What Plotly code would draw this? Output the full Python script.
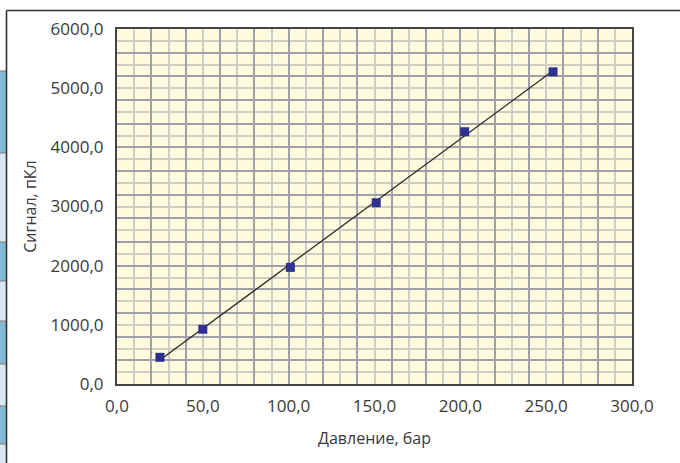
import numpy as np
import plotly.graph_objects as go

# ---- data ----
pressure = [25, 50, 101, 151, 202.5, 254]          # Давление, бар
signal = [451, 925, 1971, 3063, 4264, 5276]         # Сигнал, пКл

x_tick_vals = [0, 50, 100, 150, 200, 250, 300]
x_tick_text = ["0,0", "50,0", "100,0", "150,0", "200,0", "250,0", "300,0"]
y_tick_vals = [0, 1000, 2000, 3000, 4000, 5000, 6000]
y_tick_text = ["0,0", "1000,0", "2000,0", "3000,0", "4000,0", "5000,0", "6000,0"]

x_title = "Давление, бар"
y_title = "Сигнал, пКл"

# linear trend
coef = np.polyfit(pressure, signal, 1)
trend_x = [min(pressure), max(pressure)]
trend_y = list(np.polyval(coef, trend_x))

# ---- layout constants ----
W, H = 680, 463
ML, MR, MT, MB = 117, 48, 29, 79
PW, PH = W - ML - MR, H - MT - MB

def px(xp):
    return (xp - ML) / PW

def py(yp):
    return (H - MB - yp) / PH

FONT = "Open Sans"
TXT = "#3a3a3a"
GRID_DARK = "#a0a0a8"
GRID_LIGHT = "#cfcdc4"

fig = go.Figure()

fig.add_trace(go.Scatter(
    x=trend_x, y=trend_y, mode="lines",
    line=dict(color="#2a2a2a", width=1.3), showlegend=False, hoverinfo="skip"))
fig.add_trace(go.Scatter(
    x=pressure, y=signal, mode="markers",
    marker=dict(symbol="square", size=9, color="#2e3192"),
    showlegend=False))
# dummy trace for overlay grid axes
fig.add_trace(go.Scatter(x=[], y=[], xaxis="x2", yaxis="y2", showlegend=False))

x_minor = [v for v in range(10, 300, 10) if v % 20 != 0]
x_major = [v for v in range(20, 300, 20)]
y_minor = [v for v in range(200, 6000, 200) if v % 400 != 0]
y_major = [v for v in range(400, 6000, 400)]

fig.update_layout(
    width=W, height=H,
    margin=dict(l=ML, r=MR, t=MT, b=MB),
    paper_bgcolor="white",
    plot_bgcolor="#fffbdf",
    font=dict(family=FONT, color=TXT, size=16),
    xaxis=dict(
        range=[0, 300], tickvals=x_tick_vals, ticktext=x_tick_text,
        showgrid=False, zeroline=False,
        showline=True, linecolor="#444444", linewidth=2, mirror=True,
        ticks="", ticklabelstandoff=6,
        tickfont=dict(size=17, color=TXT),
        minor=dict(tickvals=x_minor, showgrid=True, gridcolor=GRID_LIGHT, gridwidth=1.5, ticks=""),
        title=dict(text=x_title, font=dict(size=16, color=TXT), standoff=16),
    ),
    yaxis=dict(
        range=[0, 6000], tickvals=y_tick_vals, ticktext=y_tick_text,
        showgrid=False, zeroline=False,
        showline=True, linecolor="#444444", linewidth=2, mirror=True,
        ticks="", ticklabelstandoff=8,
        tickfont=dict(size=17, color=TXT),
        minor=dict(tickvals=y_minor, showgrid=True, gridcolor=GRID_LIGHT, gridwidth=1.5, ticks=""),
        title=dict(text=y_title, font=dict(size=16, color=TXT), standoff=10),
    ),
    xaxis2=dict(
        range=[0, 300], overlaying="x", tickvals=x_major, showticklabels=False,
        showgrid=True, gridcolor=GRID_DARK, gridwidth=1.5, zeroline=False, ticks="",
    ),
    yaxis2=dict(
        range=[0, 6000], overlaying="y", tickvals=y_major, showticklabels=False,
        showgrid=True, gridcolor=GRID_DARK, gridwidth=1.5, zeroline=False, ticks="",
    ),
)

shapes = []
# left strip (table fragment)
bands = [(71, 153, "#84bbd3"), (153, 242, "#d9e9f2"), (242, 281, "#84bbd3"),
         (281, 321, "#d9e9f2"), (321, 364, "#84bbd3"), (364, 406, "#d9e9f2"),
         (406, 444, "#84bbd3"), (444, 463, "#d9e9f2")]
for y0, y1, c in bands:
    shapes.append(dict(type="rect", xref="paper", yref="paper",
                       x0=px(0), x1=px(6), y0=py(y1), y1=py(y0),
                       fillcolor=c, line=dict(width=0), layer="below"))
for y0, _, _ in bands:
    shapes.append(dict(type="line", xref="paper", yref="paper",
                       x0=px(0), x1=px(6), y0=py(y0), y1=py(y0),
                       line=dict(color="#8a8a8a", width=1.2)))
# outer frame
shapes.append(dict(type="line", xref="paper", yref="paper",
                   x0=px(6.5), x1=px(W), y0=py(10.5), y1=py(10.5),
                   line=dict(color="#333333", width=1.6)))
shapes.append(dict(type="line", xref="paper", yref="paper",
                   x0=px(6.5), x1=px(6.5), y0=py(10.5), y1=py(H),
                   line=dict(color="#333333", width=1.6)))
fig.update_layout(shapes=shapes)

fig.write_html("out.html", config={"displayModeBar": False},
               post_script="document.body.style.margin='0';document.body.style.overflow='hidden';")
